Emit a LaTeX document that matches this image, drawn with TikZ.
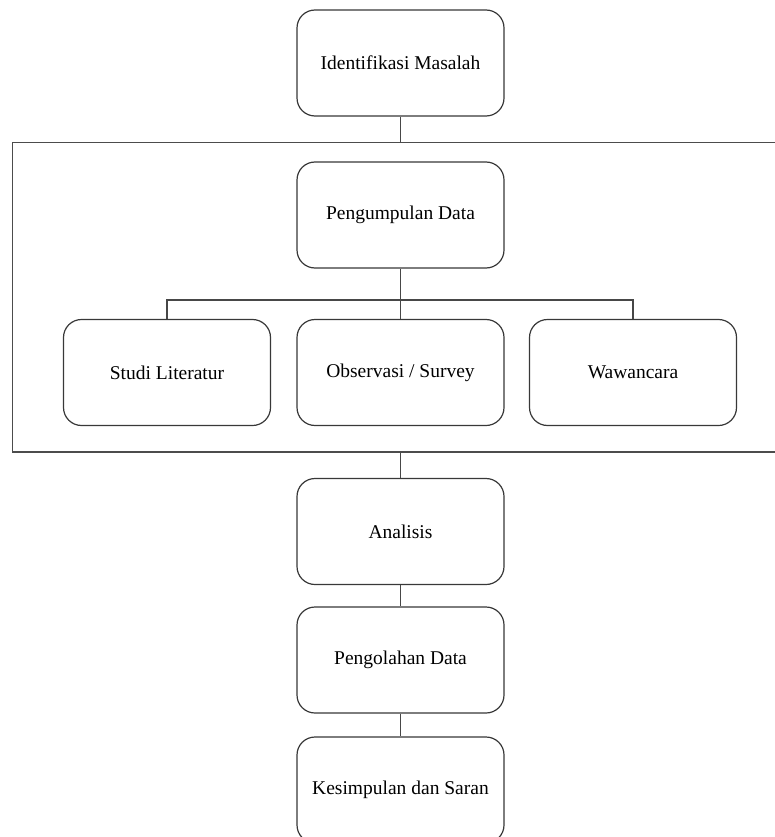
\documentclass[tikz,border=0pt]{standalone}
\usepackage{fontspec}
\setmainfont{Liberation Serif}
\begin{document}
\begin{tikzpicture}[x=1pt,y=-1pt,
  box/.style={draw=black!78, line width=1.2pt, rounded corners=18pt,
    minimum width=207pt, minimum height=106pt, inner sep=0pt,
    font=\fontsize{19.5}{23}\selectfont},
  framebox/.style={draw=black!70, line width=1.2pt, minimum width=777.5pt,
    minimum height=309.5pt, inner sep=0pt},
  conn/.style={draw=black!72, line width=1.2pt}]
\useasboundingbox (0,0) rectangle (775,837);
\clip (0,0) rectangle (775,837);

\node[framebox] (frame) at (401.25,297.25) {};

\node[box] (ident) at (400.5,63) {Identifikasi Masalah};
\node[box] (kumpul) at (400.5,215) {Pengumpulan Data};
\node[box] (studi) at (167,372.5) {Studi Literatur};
\node[box] (obs) at (400.5,372.5) {Observasi / Survey};
\node[box] (waw) at (633,372.5) {Wawancara};
\node[box] (anal) at (400.5,531.5) {Analisis};
\node[box] (olah) at (400.5,660) {Pengolahan Data};
\node[box] (simp) at (400.5,790) {Kesimpulan dan Saran};

\coordinate (bus) at (400.5,300);

\draw[conn] (ident.south) -- (ident.south |- frame.north);
\draw[conn] (kumpul.south) -- (bus);
\draw[conn] (studi.north) |- (bus) -| (waw.north);
\draw[conn] (bus) -- (obs.north);
\draw[conn] (frame.south -| anal.north) -- (anal.north);
\draw[conn] (anal.south) -- (olah.north);
\draw[conn] (olah.south) -- (simp.north);
\end{tikzpicture}
\end{document}
